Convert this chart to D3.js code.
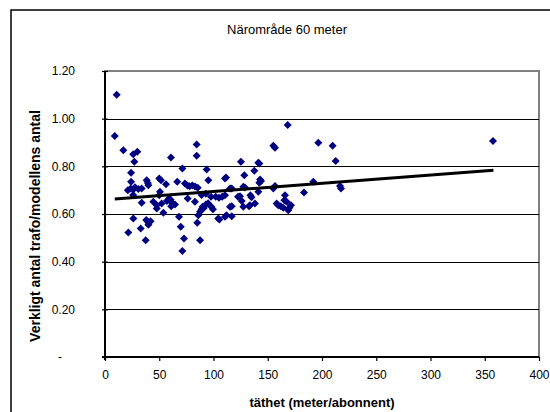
<!DOCTYPE html>
<html>
<head>
<meta charset="utf-8">
<script src="https://cdn.jsdelivr.net/npm/d3@7"></script>
<style>
  html, body { margin: 0; padding: 0; background: #fff; }
  svg { display: block; font-family: "Liberation Sans", Arial, sans-serif; }
</style>
</head>
<body>
<svg id="chart" width="550" height="412"></svg>
<script>
// Density (meter per subscriber) vs. actual / modelled transformer count
const densityX = [
  9, 10.8, 16.9, 26, 29.8, 27, 24, 24, 21, 23.7, 26.1, 27.6, 30.7, 33.8, 26,
  26.1, 21.5, 32.9, 38, 40, 42, 40, 37.5, 33.8, 38.4, 39.5, 40,
  44.5, 47.7, 50, 51.6, 50, 52.2, 53.8, 56.2, 50.7, 59, 60.5, 62, 61, 64.5,
  60.8, 66.6, 68.2, 69.8, 72.8, 71.3, 71.3, 57, 47.7,
  73.7, 76, 78, 80.5, 83, 85.5, 76.2, 82.9, 84.5, 84.5, 85, 87.6, 87.6, 89,
  91, 93, 95, 98, 86, 93.7, 95.2, 97.7, 90, 89, 93, 99.5,
  102, 105, 108, 110.6, 110.6, 111.5, 115.2, 116.8, 115.2, 116.8, 116.8,
  104.4, 110.6, 112, 105.4, 122.6, 124.4, 126, 125.3, 128.4, 127.5, 129,
  127.5, 132.7, 133.6, 134, 135, 138.2, 137.6, 141.3, 142.2, 141.3, 142.9,
  143.8, 142.2,
  155.1, 156.7, 168.4, 155.1, 156.7, 158.2, 159.7, 162, 164.3, 165.9, 165.3,
  167.4, 171.4, 168.9, 170, 183.4, 192, 196.6, 209.8, 212.6, 216.6, 217.5,
  357.6
];
const ratioY = [
  0.927, 1.100, 0.868, 0.851, 0.861, 0.819, 0.773, 0.735, 0.700, 0.707, 0.703, 0.712, 0.705, 0.707, 0.680,
  0.581, 0.522, 0.539, 0.575, 0.565, 0.570, 0.555, 0.490, 0.647, 0.742, 0.730, 0.721,
  0.651, 0.623, 0.749, 0.742, 0.679, 0.644, 0.605, 0.725, 0.693, 0.665, 0.660, 0.645, 0.632, 0.640,
  0.837, 0.735, 0.588, 0.546, 0.497, 0.445, 0.791, 0.655, 0.637,
  0.728, 0.720, 0.716, 0.720, 0.715, 0.710, 0.665, 0.651, 0.892, 0.844, 0.563, 0.490, 0.609, 0.620,
  0.625, 0.640, 0.645, 0.630, 0.595, 0.787, 0.742, 0.672, 0.630, 0.680, 0.685, 0.620,
  0.672, 0.668, 0.672, 0.679, 0.749, 0.753, 0.707, 0.707, 0.630, 0.633, 0.591,
  0.581, 0.588, 0.595, 0.577, 0.672, 0.675, 0.655, 0.819, 0.763, 0.714, 0.711,
  0.630, 0.633, 0.637, 0.679, 0.670, 0.644, 0.781, 0.815, 0.812, 0.693, 0.745,
  0.738, 0.731,
  0.886, 0.878, 0.973, 0.707, 0.717, 0.644, 0.637, 0.632, 0.626, 0.679, 0.658,
  0.651, 0.637, 0.616, 0.626, 0.690, 0.735, 0.899, 0.886, 0.822, 0.717, 0.707,
  0.906
];
// Linear trend line end points
const trendX = [9, 358];
const trendY = [0.663, 0.784];

const xTicks = [0, 50, 100, 150, 200, 250, 300, 350, 400];
const yTicks = [0, 0.2, 0.4, 0.6, 0.8, 1.0, 1.2];
const yTickLabels = ["-", "0.20", "0.40", "0.60", "0.80", "1.00", "1.20"];

const titleText = "Närområde 60 meter";
const xTitle = "täthet (meter/abonnent)";
const yTitle = "Verkligt antal trafo/modellens antal";

const svg = d3.select("#chart");
const plot = { left: 105, right: 539, top: 71, bottom: 357 };

const x = d3.scaleLinear().domain([0, 400]).range([plot.left, plot.right]);
const y = d3.scaleLinear().domain([0, 1.2]).range([plot.bottom, plot.top]);

// outer chart frame (extends past the page edge on right and bottom)
svg.append("rect")
  .attr("x", 11).attr("y", 10).attr("width", 600).attr("height", 500)
  .attr("fill", "none").attr("stroke", "#000").attr("stroke-width", 1.5);

// plot area border
svg.append("rect")
  .attr("x", plot.left).attr("y", plot.top)
  .attr("width", plot.right - plot.left).attr("height", plot.bottom - plot.top)
  .attr("fill", "none").attr("stroke", "#808080").attr("stroke-width", 2);

// horizontal gridlines
svg.append("g")
  .selectAll("line")
  .data(yTicks.filter(v => v > 0 && v < 1.2))
  .join("line")
  .attr("x1", plot.left).attr("x2", plot.right)
  .attr("y1", d => Math.round(y(d)) + 0.5).attr("y2", d => Math.round(y(d)) + 0.5)
  .attr("stroke", "#000").attr("stroke-width", 1);

// x axis
const xAxis = svg.append("g")
  .attr("transform", `translate(0,${plot.bottom})`)
  .call(d3.axisBottom(x).tickValues(xTicks).tickFormat(d3.format("d")).tickSize(4).tickPadding(9));
xAxis.select(".domain").attr("stroke", "#000").attr("stroke-width", 2)
  .attr("d", `M${plot.left - 3},0H${plot.right}`);
xAxis.selectAll(".tick line").attr("stroke", "#000").attr("stroke-width", 1.2);
xAxis.selectAll(".tick text").attr("font-size", 12).attr("fill", "#000")
  .attr("font-family", "'Liberation Sans', Arial, sans-serif");

// y axis with crossing ticks
const yAxis = svg.append("g")
  .attr("transform", `translate(${plot.left},0)`)
  .call(d3.axisLeft(y).tickValues(yTicks).tickFormat((d, i) => yTickLabels[i]).tickSize(0).tickPadding(30));
yAxis.select(".domain").attr("stroke", "#000").attr("stroke-width", 2)
  .attr("d", `M0,${plot.top}V${plot.bottom + 3}`);
yAxis.selectAll(".tick").append("line")
  .attr("x1", -3).attr("x2", 3).attr("stroke", "#000").attr("stroke-width", 1.2);
yAxis.selectAll(".tick text").attr("font-size", 12).attr("fill", "#000")
  .attr("font-family", "'Liberation Sans', Arial, sans-serif");
yAxis.selectAll(".tick text").filter(d => d === 0).attr("x", -43);

// data points
const pts = densityX.map((d, i) => ({ x: d, y: ratioY[i] }));
const diamond = d3.symbol(d3.symbolSquare, 32);
svg.append("g")
  .selectAll("path")
  .data(pts)
  .join("path")
  .attr("d", diamond)
  .attr("transform", d => `translate(${x(d.x)},${y(d.y)}) rotate(45)`)
  .attr("fill", "#000080");

// trend line
svg.append("path")
  .datum(trendX.map((d, i) => [d, trendY[i]]))
  .attr("d", d3.line().x(d => x(d[0])).y(d => y(d[1])))
  .attr("stroke", "#000").attr("stroke-width", 3).attr("fill", "none");

// titles
svg.append("text")
  .attr("x", 287).attr("y", 34).attr("text-anchor", "middle")
  .attr("font-size", 13).text(titleText);

svg.append("text")
  .attr("x", 322).attr("y", 407).attr("text-anchor", "middle")
  .attr("font-size", 13).attr("font-weight", "bold").text(xTitle);

svg.append("text")
  .attr("transform", "translate(40,226) rotate(-90)")
  .attr("text-anchor", "middle")
  .attr("font-size", 14).attr("font-weight", "bold").text(yTitle);
</script>
</body>
</html>
